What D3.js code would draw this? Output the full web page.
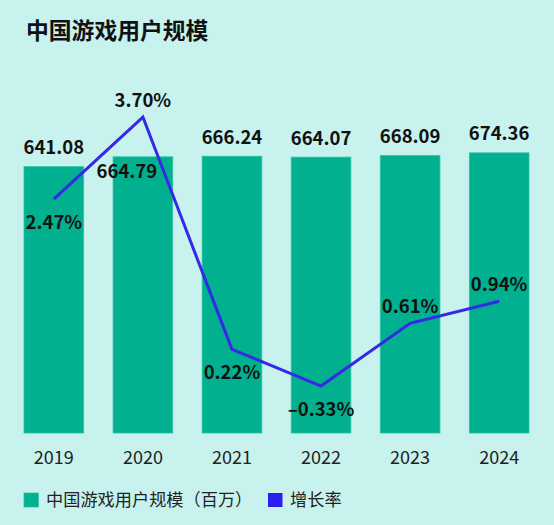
<!DOCTYPE html>
<html><head><meta charset="utf-8">
<script src="https://cdn.jsdelivr.net/npm/d3@7"></script>
<style>
html,body{margin:0;padding:0;background:#c8f2ee;}
svg{display:block;font-family:"Noto Sans CJK SC","Noto Sans",sans-serif;}
</style></head><body>
<svg id="c" width="554" height="525"></svg>
<script>
const years = ["2019","2020","2021","2022","2023","2024"];
const users = [641.08, 664.79, 666.24, 664.07, 668.09, 674.36];
const growth = [2.47, 3.70, 0.22, -0.33, 0.61, 0.94];
const growthLabels = ["2.47%","3.70%","0.22%","–0.33%","0.61%","0.94%"];
const userLabels = ["641.08","664.79","666.24","664.07","668.09","674.36"];
const legendLabels = ["中国游戏用户规模（百万）","增长率"];
const title = "中国游戏用户规模";

// layout (not data)
const growthLabelSide = ["below","above","below","below","above","above"];
const barLabelInside = [false,true,false,false,false,false];

const W=554,H=525;
const svg=d3.select("#c");
svg.append("rect").attr("width",W).attr("height",H).attr("fill","#c8f2ee");

const x=d3.scaleBand().domain(years).range([24,529]).paddingInner(0.33).paddingOuter(0);
const y=d3.scaleLinear().domain([0,700]).range([433,142.2]);
const y2=d3.scaleLinear().domain([-0.5,4]).range([397.4,97]);

svg.append("text").attr("x",26).attr("y",39).attr("font-size",22.8).attr("font-weight",700)
  .attr("fill","#111").text(title);

svg.append("g").selectAll("rect").data(users).join("rect")
  .attr("x",(d,i)=>x(years[i])).attr("width",x.bandwidth())
  .attr("y",d=>y(d)).attr("height",d=>y(0)-y(d))
  .attr("fill","#00b08f").attr("stroke","#2cc3a5").attr("stroke-width",0.8);

svg.append("g").selectAll("text").data(users).join("text")
  .attr("x",(d,i)=>x(years[i])+x.bandwidth()/2-(barLabelInside[i]?16:0))
  .attr("y",(d,i)=>barLabelInside[i]?y(d)+21:y(d)-12.5)
  .attr("text-anchor","middle").attr("font-size",18.5).attr("font-weight",700).attr("fill","#111")
  .text((d,i)=>userLabels[i]);

const line=d3.line().x((d,i)=>x(years[i])+x.bandwidth()/2).y(d=>y2(d));
svg.append("path").datum(growth).attr("d",line).attr("fill","none")
  .attr("stroke","#3628e6").attr("stroke-width",3).attr("stroke-linejoin","miter");

svg.append("g").selectAll("text").data(growth).join("text")
  .attr("x",(d,i)=>x(years[i])+x.bandwidth()/2)
  .attr("y",(d,i)=>growthLabelSide[i]==="above"?y2(d)-10:y2(d)+30)
  .attr("text-anchor","middle").attr("font-size",18.5).attr("font-weight",700).attr("fill","#111")
  .text((d,i)=>growthLabels[i]);

const xAxis=svg.append("g").attr("transform","translate(0,433)")
  .call(d3.axisBottom(x).tickSize(0).tickPadding(30));
xAxis.select(".domain").remove();
xAxis.selectAll("text").attr("font-size",18).attr("fill","#222")
  .attr("font-family",'"Noto Sans CJK SC","Noto Sans",sans-serif').attr("dy",0).attr("y",30.5);

const leg=svg.append("g");
const legItems=[{x:24,c:"#00b08f",t:legendLabels[0]},{x:268,c:"#2b1ff0",t:legendLabels[1]}];
legItems.forEach(it=>{
  leg.append("rect").attr("x",it.x).attr("y",493).attr("width",14.5).attr("height",14)
    .attr("fill",it.c).attr("stroke",it.c===legItems[0].c?"#2cc3a5":"none").attr("stroke-width",0.8);
  leg.append("text").attr("x",it.x+22).attr("y",506).attr("font-size",17.2).attr("fill","#222").text(it.t);
});
</script>
</body></html>
